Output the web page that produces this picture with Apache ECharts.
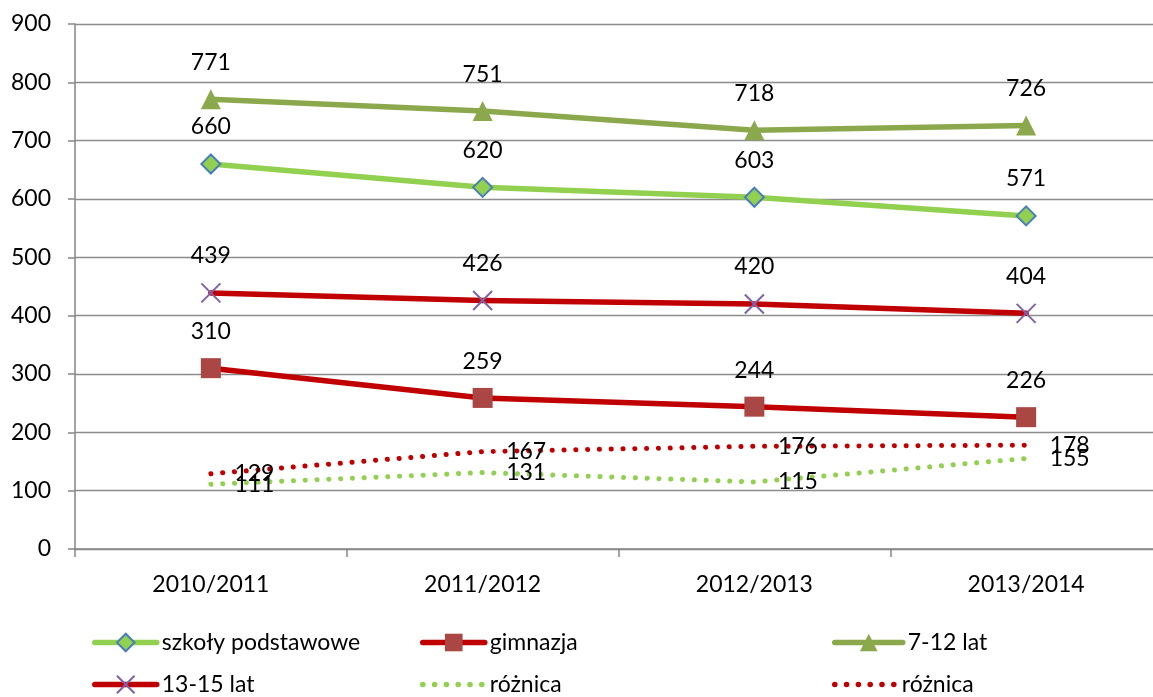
<!DOCTYPE html>
<html>
<head>
<meta charset="utf-8">
<script src="https://cdn.jsdelivr.net/npm/echarts@6/dist/echarts.min.js"></script>
<style>
html,body{margin:0;padding:0;background:#fff;}
#chart{width:1153px;height:697px;}
</style>
</head>
<body>
<div id="chart"></div>
<script>
const categories = ['2010/2011', '2011/2012', '2012/2013', '2013/2014'];
const szkolyPodstawowe = [660, 620, 603, 571];
const gimnazja = [310, 259, 244, 226];
const lat7_12 = [771, 751, 718, 726];
const lat13_15 = [439, 426, 420, 404];
const roznicaGreen = [111, 131, 115, 155];
const roznicaRed = [129, 167, 176, 178];
const yTicks = { min: 0, max: 900, interval: 100 };

const FONT = 'Lato';
const FS = 23;
const labelTop = {
  show: true, position: 'top', distance: 15,
  color: '#000', fontFamily: FONT, fontSize: FS
};
const labelRight = {
  show: true, position: 'right', distance: 23,
  color: '#000', fontFamily: FONT, fontSize: FS
};
const GREEN = '#92D050';
const RED = '#C00000';
const OLIVE = '#8CA84C';
const PURPLE = '#7F62A8';
const DOT = [0.1, 11.7];

const chart = echarts.init(document.getElementById('chart'), null, { renderer: 'canvas' });

function legend(name, left, top, w, hideSymbol) {
  const l = {
    data: [name], left: left, top: top, padding: 0,
    itemWidth: w, itemHeight: 22, itemGap: 0,
    selectedMode: false,
    textStyle: { fontFamily: FONT, fontSize: FS, color: '#000' },
    lineStyle: { width: 5.5, cap: 'round' }
  };
  if (hideSymbol) l.itemStyle = { opacity: 0 };
  return l;
}

chart.setOption({
  animation: false,
  backgroundColor: '#fff',
  grid: { left: 75, right: -9, top: 24, bottom: 148, containLabel: false, outerBoundsMode: 'none' },
  legend: [
    legend('szkoły podstawowe', 92, 631, 62, false),
    legend('gimnazja', 420, 631, 62, false),
    legend('7-12 lat', 832, 631, 68, false),
    legend('13-15 lat', 92, 673, 62, false),
    legend('różnica', 420, 673, 62, true),
    legend('różnica ', 832, 673, 62, true)
  ],
  xAxis: {
    type: 'category',
    data: categories,
    boundaryGap: true,
    axisLine: { lineStyle: { color: '#868686', width: 1.5 } },
    axisTick: { show: true, length: 8, lineStyle: { color: '#868686', width: 1.5 } },
    axisLabel: { color: '#000', fontFamily: FONT, fontSize: FS, margin: 24 },
    splitLine: { show: false }
  },
  yAxis: {
    type: 'value',
    min: yTicks.min, max: yTicks.max, interval: yTicks.interval,
    axisLine: { show: true, lineStyle: { color: '#868686', width: 1.5 } },
    axisTick: { show: true, length: 7, lineStyle: { color: '#868686', width: 1.5 } },
    axisLabel: { color: '#000', fontFamily: FONT, fontSize: FS, margin: 24 },
    splitLine: { show: true, lineStyle: { color: '#8c8c8c', width: 1.4 } }
  },
  series: [
    {
      name: 'szkoły podstawowe', type: 'line', data: szkolyPodstawowe,
      symbol: 'diamond', symbolSize: 19,
      lineStyle: { color: GREEN, width: 5.5, cap: 'round', join: 'round' },
      itemStyle: { color: GREEN, borderColor: '#4A7EBB', borderWidth: 2 },
      label: labelTop, z: 3
    },
    {
      name: 'gimnazja', type: 'line', data: gimnazja,
      symbol: 'rect', symbolSize: 20,
      lineStyle: { color: RED, width: 5.5, cap: 'round', join: 'round' },
      itemStyle: { color: '#AA4643' },
      label: labelTop, z: 3
    },
    {
      name: '7-12 lat', type: 'line', data: lat7_12,
      symbol: 'triangle', symbolSize: 20,
      lineStyle: { color: OLIVE, width: 5.5, cap: 'round', join: 'round' },
      itemStyle: { color: OLIVE },
      label: labelTop, z: 3
    },
    {
      name: '13-15 lat', type: 'line', data: lat13_15,
      symbol: 'path://M0,0L20,20M20,0L0,20', symbolSize: 19,
      lineStyle: { color: RED, width: 5.5, cap: 'round', join: 'round' },
      itemStyle: { color: PURPLE, borderColor: PURPLE, borderWidth: 2 },
      label: labelTop, z: 3
    },
    {
      name: 'różnica', type: 'line', data: roznicaGreen,
      symbol: 'circle', symbolSize: 1,
      lineStyle: { color: GREEN, width: 5, type: DOT, cap: 'round' },
      itemStyle: { color: GREEN },
      label: labelRight, z: 2
    },
    {
      name: 'różnica ', type: 'line', data: roznicaRed,
      symbol: 'circle', symbolSize: 1,
      lineStyle: { color: RED, width: 5, type: DOT, cap: 'round' },
      itemStyle: { color: RED },
      label: labelRight, z: 2
    }
  ]
});
</script>
</body>
</html>
